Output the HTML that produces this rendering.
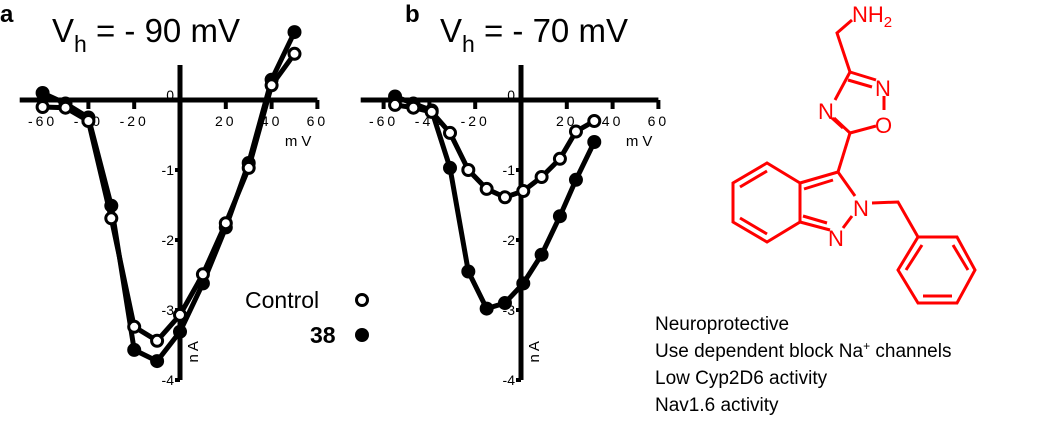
<!DOCTYPE html>
<html><head><meta charset="utf-8"><style>
body{margin:0;background:#fff;width:1050px;height:429px;overflow:hidden}
svg{display:block;font-family:"Liberation Sans",Arial,sans-serif}
</style></head><body>
<svg id="fig" width="1050" height="429" viewBox="0 0 1050 429">
<text x="0" y="22" font-size="24" font-weight="bold">a</text>
<text x="52" y="42" font-size="33">V<tspan font-size="23" dy="10">h</tspan><tspan dy="-10"> = - 90 mV</tspan></text>
<text x="405" y="22" font-size="24" font-weight="bold">b</text>
<text x="440" y="42" font-size="33">V<tspan font-size="23" dy="10">h</tspan><tspan dy="-10"> = - 70 mV</tspan></text>
<g id="pa"></g>
<g id="pb"></g>
<g>
<text x="245" y="308" font-size="23">Control</text>
<circle cx="362" cy="300" r="5.5" fill="#fff" stroke="#000" stroke-width="3"/>
<text x="310" y="343" font-size="23" font-weight="bold">38</text>
<circle cx="362" cy="335" r="7" fill="#000"/>
</g>
<g stroke="#f00" stroke-width="3" fill="none">
<polyline points="852,20 837,33 850,72"/>
<line x1="850" y1="72" x2="876" y2="80"/><line x1="848" y1="80" x2="872" y2="87"/>
<line x1="884" y1="96" x2="884" y2="110"/>
<line x1="876" y1="126" x2="850" y2="133"/>
<line x1="850" y1="133" x2="834" y2="118"/><line x1="843" y1="128" x2="832" y2="118"/>
<line x1="835" y1="100" x2="850" y2="72"/>
<line x1="850" y1="133" x2="838" y2="172"/>
<line x1="838" y1="172" x2="855" y2="196"/>
<line x1="838" y1="172" x2="800" y2="183"/><line x1="833" y1="180" x2="804" y2="189"/>
<line x1="852" y1="216" x2="843" y2="228"/>
<line x1="830" y1="230" x2="800" y2="222"/><line x1="827" y1="223" x2="803" y2="216"/>
<polyline points="800,183 767,163 733,183 733,222 767,242 800,222 800,183"/>
<line x1="767" y1="171" x2="740" y2="187"/><line x1="740" y1="218" x2="767" y2="234"/>
<polyline points="872,203 898,202 918,237"/>
<polygon points="918,237 957,237 975,270 957,303 918,303 898,270"/>
<line x1="922" y1="245" x2="906" y2="270"/><line x1="923" y1="296" x2="952" y2="296"/><line x1="953" y1="245" x2="968" y2="270"/>
</g>
<g fill="#f00" font-size="22">
<text x="852" y="22">NH<tspan font-size="15" dy="5">2</tspan></text>
<text x="875" y="96">N</text>
<text x="875" y="133">O</text>
<text x="818" y="119">N</text>
<text x="853" y="216">N</text>
<text x="828" y="246">N</text>
</g>
<g font-size="19">
<text x="655" y="330">Neuroprotective</text>
<text x="655" y="357">Use dependent block Na<tspan font-size="12" dy="-7">+</tspan><tspan dy="7"> channels</tspan></text>
<text x="655" y="384">Low Cyp2D6 activity</text>
<text x="655" y="411">Nav1.6 activity</text>
</g>
</svg>
<script>
const xTicks=[-60,-40,-20,0,20,40,60];
const yTicks=[0,-1,-2,-3,-4];
const voltsA=[-60,-50,-40,-30,-20,-10,0,10,20,30,40,50];
const controlA=[-0.1,-0.11,-0.3,-1.69,-3.24,-3.44,-3.07,-2.49,-1.76,-0.97,0.21,0.66];
const drugA=[0.1,-0.05,-0.25,-1.51,-3.57,-3.73,-3.31,-2.62,-1.82,-0.9,0.29,0.97];
const voltsB=[-55,-47,-39,-31,-23,-15,-7,1,9,17,24,32];
const controlB=[-0.07,-0.11,-0.17,-0.47,-1.0,-1.27,-1.39,-1.3,-1.1,-0.84,-0.45,-0.3];
const drugB=[0.05,-0.05,-0.15,-0.97,-2.45,-2.98,-2.9,-2.62,-2.21,-1.66,-1.14,-0.6];
const NS='http://www.w3.org/2000/svg';
function mk(p,t,a){const e=document.createElementNS(NS,t);for(const k in a)e.setAttribute(k,a[k]);p.appendChild(e);return e;}
function panel(gid,ox,volts,ctrl,drug,pre){
  const g=document.getElementById(gid);
  const X=v=>ox+v*2.29, Y=i=>100-i*70;
  let e=mk(g,'line',{x1:X(-70),y1:Y(0),x2:X(60),y2:Y(0),stroke:'#000','stroke-width':5});
  
  
  e=mk(g,'line',{x1:ox,y1:65,x2:ox,y2:Y(-4),stroke:'#000','stroke-width':5});
  
  
  xTicks.forEach(v=>{
    mk(g,'line',{x1:X(v),y1:Y(0),x2:X(v),y2:Y(0)+9,stroke:'#000','stroke-width':4});
    if(v!==0){const t=mk(g,'text',{x:X(v),y:Y(0)+26,'font-size':14,'text-anchor':'middle','letter-spacing':'3'});t.textContent=v;
    
    }
  });
  yTicks.forEach(i=>{
    mk(g,'line',{x1:ox-5,y1:Y(i),x2:ox,y2:Y(i),stroke:'#000','stroke-width':4});
    const t=mk(g,'text',{x:ox-6,y:Y(i)+(i===0?0:5),'font-size':14,'text-anchor':'end'});t.textContent=i;
    
    
  });
  let t=mk(g,'text',{x:X(60)-2,y:Y(0)+46,'font-size':15,'text-anchor':'end','letter-spacing':'4'});t.textContent='mV';
  
  
  t=mk(g,'text',{x:0,y:0,'font-size':15,transform:`translate(${ox+18},${Y(-3.75)}) rotate(-90)`,'letter-spacing':'3'});t.textContent='nA';
  
  
  [[drug,'drug-38',true],[ctrl,'control',false]].forEach(([ser,nm,filled])=>{
    const pts=volts.map((v,k)=>X(v)+','+Y(ser[k])).join(' ');
    const l=mk(g,'polyline',{points:pts,fill:'none',stroke:'#000','stroke-width':5});
    
    
    volts.forEach((v,k)=>{
      const c=mk(g,'circle',{cx:X(v),cy:Y(ser[k]),r:filled?7:5.5,fill:filled?'#000':'#fff',stroke:'#000','stroke-width':filled?0:3});
      
      
    });
  });
}
panel('pa',180,voltsA,controlA,drugA,'panel-a');
panel('pb',521,voltsB,controlB,drugB,'panel-b');
</script>
</body></html>
